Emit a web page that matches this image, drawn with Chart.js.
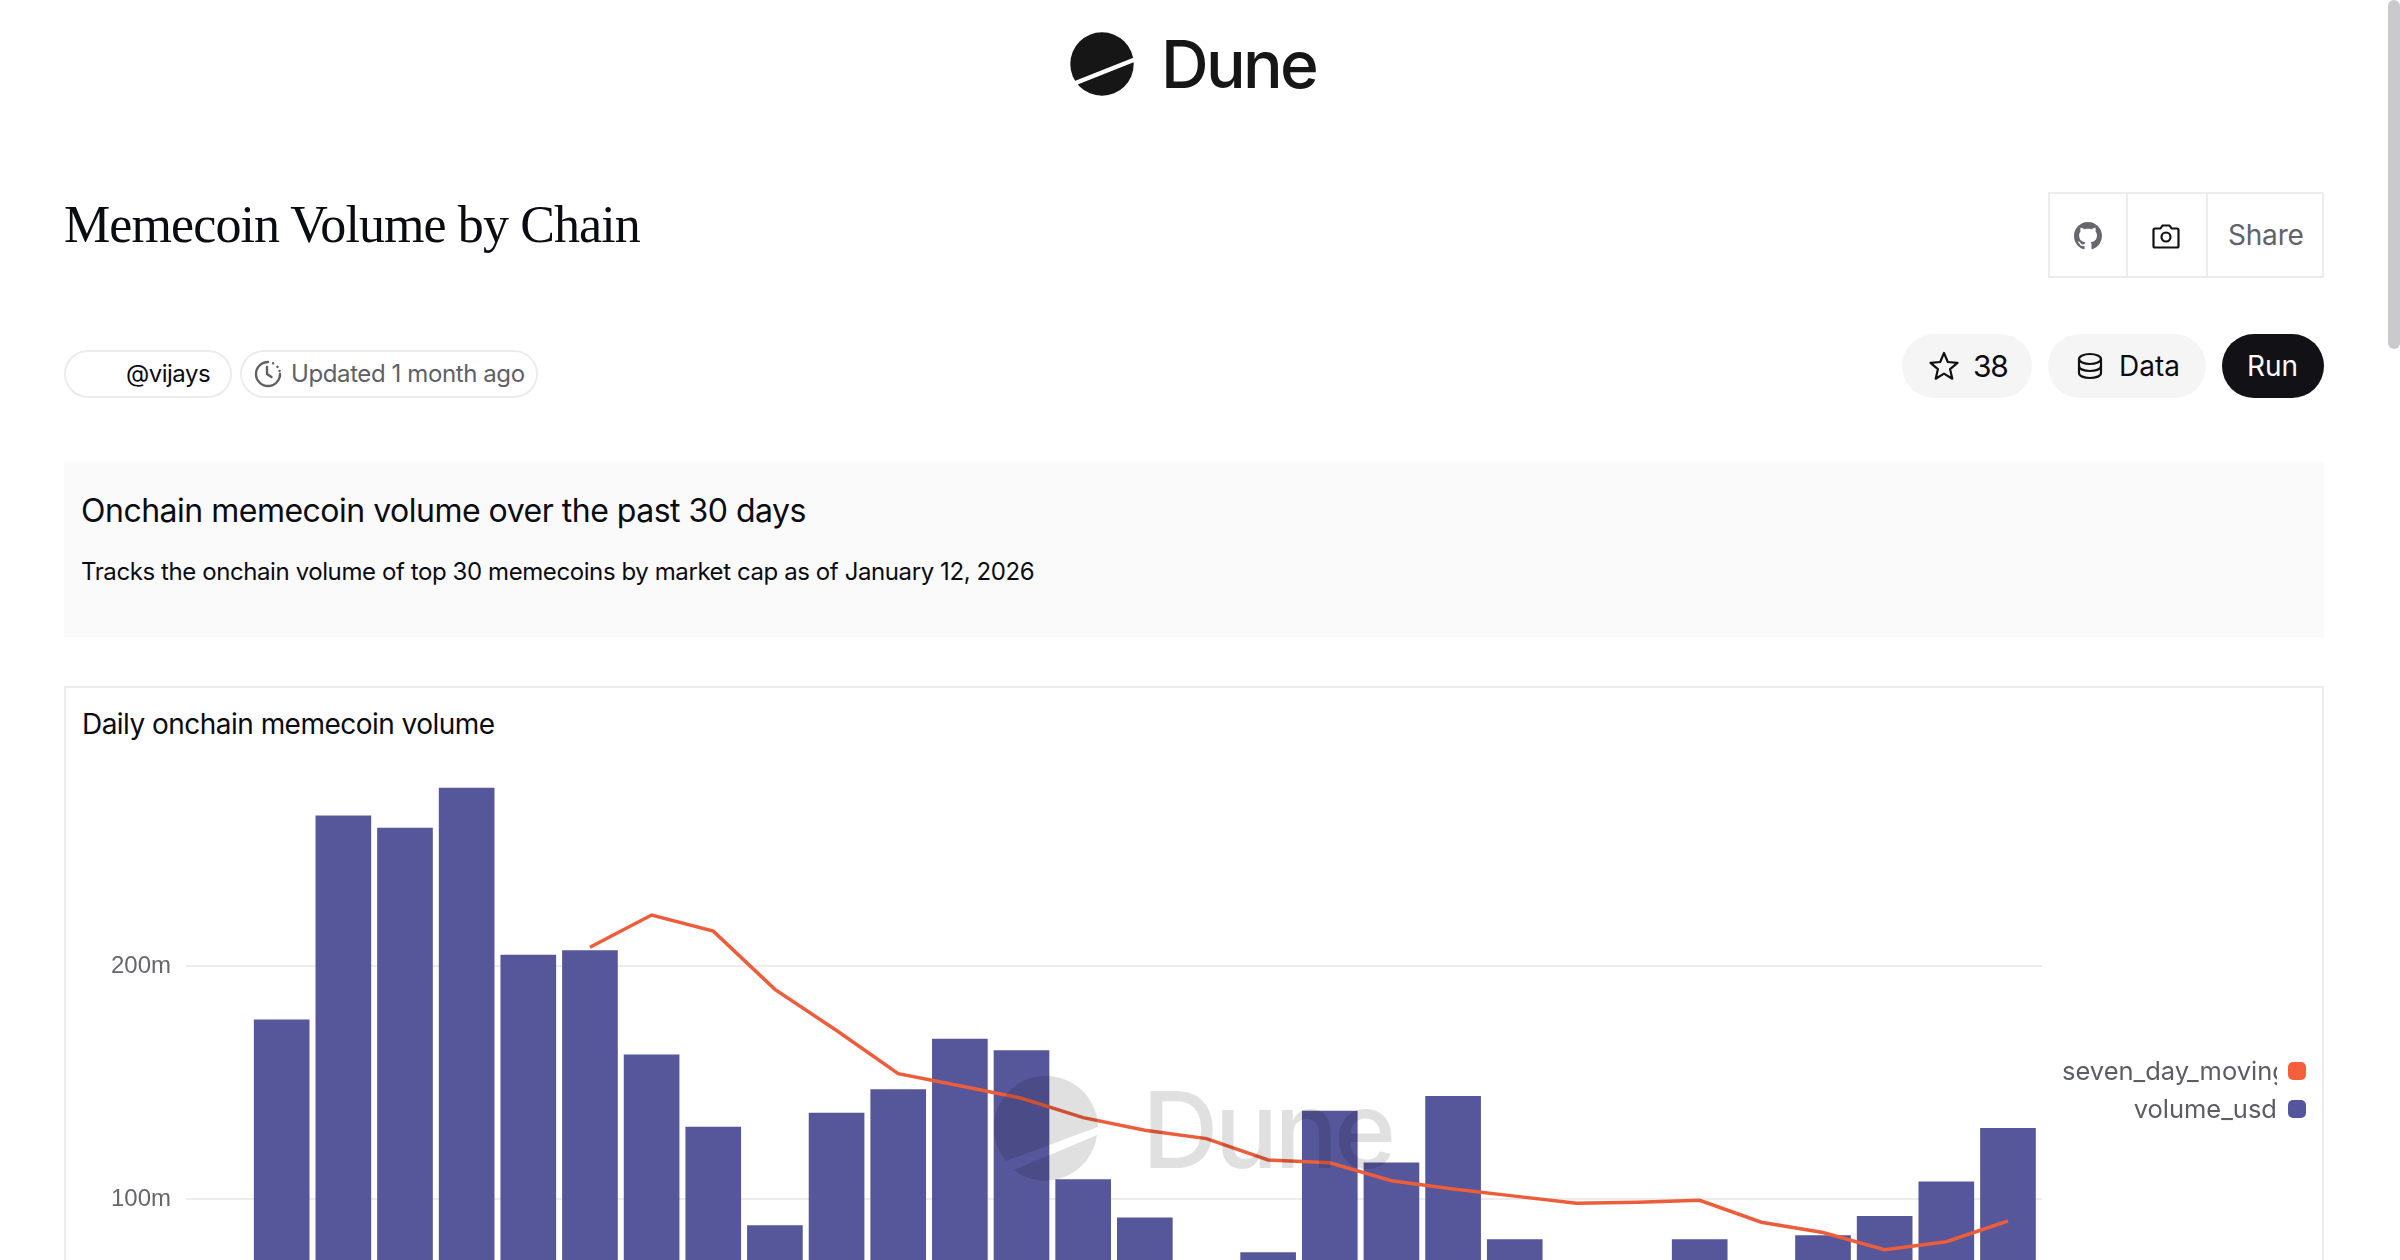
<!DOCTYPE html>
<html>
<head>
<meta charset="utf-8">
<title>Memecoin Volume by Chain</title>
<script src="https://cdn.jsdelivr.net/npm/chart.js@4"></script>
<style>
  html, body { margin: 0; width: 2400px; height: 1260px; overflow: hidden; background: #fff; }
  body { font-family: Inter, sans-serif; color: #0b0b12; position: relative; }
  .abs { position: absolute; white-space: nowrap; }
  .txt { position: absolute; white-space: nowrap; transform: translateY(-50%); line-height: 1; }
  .box { position: absolute; box-sizing: border-box; }
  #chartWrap { position: absolute; left: 66px; top: 690px; width: 2256px; height: 790px; }
  #watermark { position: absolute; left: 0; top: 0; pointer-events: none; }
  #legend { position: absolute; left: 2062px; top: 1052px; width: 244px; }
  .legendRow { position: absolute; left: 0; width: 244px; height: 38px; }
  .legendText { position: absolute; left: 0; width: 215px; top: 0; height: 38px; line-height: 38px; overflow: hidden; text-align: right; font-size: 25.5px; color: #5c5c64; white-space: nowrap; }
  .legendText.clip { text-align: left; }
  .legendSwatch { position: absolute; left: 226px; top: 10px; width: 18px; height: 18px; border-radius: 5px; }
  #scrollbar { position: absolute; left: 2388px; top: 0; width: 12px; height: 349px; background: #c9c9ce; border-radius: 6px; }
</style>
</head>
<body>

<!-- header logo -->
<svg class="abs" style="left:1066px;top:28px" width="72" height="72" viewBox="0 0 72 72">
  <circle cx="36" cy="36" r="31.7" fill="#161616"/>
  <line x1="2" y1="58" x2="70" y2="31" stroke="#fff" stroke-width="4.5"/>
</svg>
<div class="txt" style="left:1161px;top:64px;font-size:66px;font-weight:500;letter-spacing:-2.7px;color:#161616">Dune</div>

<div class="txt" style="left:64px;top:225px;font-family:'Liberation Serif',serif;font-size:52px;letter-spacing:-0.9px">Memecoin Volume by Chain</div>

<!-- author pills -->
<div class="box" style="left:64px;top:350px;width:168px;height:48px;border:2px solid #ececec;border-radius:24px"></div>
<div class="txt" style="left:126px;top:374px;font-size:24px;letter-spacing:-0.5px">@vijays</div>
<div class="box" style="left:240px;top:350px;width:298px;height:48px;border:2px solid #ececec;border-radius:24px"></div>
<svg class="abs" style="left:253px;top:359px" width="30" height="30" viewBox="0 0 30 30" fill="none" stroke="#5f5f66" stroke-width="2.4" stroke-linecap="round">
  <path d="M15 3 A12 12 0 1 0 27 15"/>
  <path d="M20 4.2 L20.1 4.3 M24.4 7.8 L24.5 7.9 M26.6 12 L26.6 12.1"/>
  <path d="M14 8 V15 L18.5 18"/>
</svg>
<div class="txt" style="left:291px;top:374px;font-size:24px;letter-spacing:-0.4px;color:#5f5f66">Updated 1 month ago</div>

<!-- share group -->
<div class="box" style="left:2048px;top:192px;width:276px;height:86px;border:2px solid #ececec"></div>
<div class="box" style="left:2126px;top:192px;width:2px;height:86px;background:#ececec"></div>
<div class="box" style="left:2206px;top:192px;width:2px;height:86px;background:#ececec"></div>
<svg class="abs" style="left:2074px;top:222px" width="28" height="28" viewBox="0 0 16 16" fill="#66666c">
  <path d="M8 0C3.58 0 0 3.58 0 8c0 3.54 2.29 6.53 5.47 7.59.4.07.55-.17.55-.38 0-.19-.01-.82-.01-1.49-2.01.37-2.53-.49-2.69-.94-.09-.23-.48-.94-.82-1.13-.28-.15-.68-.52-.01-.53.63-.01 1.08.58 1.23.82.72 1.21 1.87.87 2.33.66.07-.52.28-.87.51-1.07-1.78-.2-3.64-.89-3.64-3.95 0-.87.31-1.59.82-2.15-.08-.2-.36-1.02.08-2.12 0 0 .67-.21 2.2.82.64-.18 1.32-.27 2-.27.68 0 1.36.09 2 .27 1.53-1.04 2.2-.82 2.2-.82.44 1.1.16 1.92.08 2.12.51.56.82 1.27.82 2.15 0 3.07-1.87 3.75-3.65 3.95.29.25.54.73.54 1.48 0 1.07-.01 1.93-.01 2.2 0 .21.15.46.55.38A8.013 8.013 0 0016 8c0-4.42-3.58-8-8-8z"/>
</svg>
<svg class="abs" style="left:2152px;top:222px" width="28" height="28" viewBox="0 0 28 28" fill="none" stroke="#111" stroke-width="2.2" stroke-linejoin="round">
  <path d="M3 6.5 H8.5 L10.5 3.5 H17.5 L19.5 6.5 H25 Q26.5 6.5 26.5 8 V24 Q26.5 25.5 25 25.5 H3 Q1.5 25.5 1.5 24 V8 Q1.5 6.5 3 6.5 Z"/>
  <circle cx="14" cy="15" r="4.5"/>
</svg>
<div class="txt" style="left:2228px;top:235px;font-size:28px;letter-spacing:-0.2px;color:#62626a">Share</div>

<!-- action pills -->
<div class="box" style="left:1902px;top:334px;width:130px;height:64px;background:#f5f5f5;border-radius:32px"></div>
<svg class="abs" style="left:1928px;top:350px" width="32" height="32" viewBox="0 0 32 32" fill="none" stroke="#111" stroke-width="2.2" stroke-linejoin="round">
  <path d="M16 3 L19.8 12 L29.5 12.8 L22.1 19.2 L24.3 28.7 L16 23.6 L7.7 28.7 L9.9 19.2 L2.5 12.8 L12.2 12 Z"/>
</svg>
<div class="txt" style="left:1973px;top:366px;font-size:30px;letter-spacing:-1.2px">38</div>
<div class="box" style="left:2048px;top:334px;width:158px;height:64px;background:#f5f5f5;border-radius:32px"></div>
<svg class="abs" style="left:2076px;top:352px" width="28" height="28" viewBox="0 0 28 28" fill="none" stroke="#111" stroke-width="2.2">
  <ellipse cx="14" cy="7" rx="11" ry="5"/>
  <path d="M3 7 V21 C3 24 8 26 14 26 C20 26 25 24 25 21 V7"/>
  <path d="M3 14 C3 17 8 19 14 19 C20 19 25 17 25 14"/>
</svg>
<div class="txt" style="left:2119px;top:366px;font-size:28px">Data</div>
<div class="box" style="left:2222px;top:334px;width:102px;height:64px;background:#111116;border-radius:32px"></div>
<div class="txt" style="left:2247px;top:366px;font-size:28px;color:#fff">Run</div>

<!-- description -->
<div class="box" style="left:64px;top:462px;width:2260px;height:176px;background:#fafafa"></div>
<div class="txt" style="left:81px;top:511px;font-size:32px;letter-spacing:-0.5px">Onchain memecoin volume over the past 30 days</div>
<div class="txt" style="left:81px;top:572px;font-size:24px;letter-spacing:-0.41px">Tracks the onchain volume of top 30 memecoins by market cap as of January 12, 2026</div>

<!-- chart card -->
<div class="box" style="left:64px;top:686px;width:2260px;height:800px;border:2px solid #ececec"></div>
<div class="txt" style="left:82px;top:724px;font-size:28px;letter-spacing:-0.53px">Daily onchain memecoin volume</div>
<div id="chartWrap"><canvas id="chart" width="2256" height="790"></canvas></div>

<!-- watermark sits over the bars, it darkens them a little -->
<svg id="watermark" width="2400" height="1260">
  <g fill="rgba(0,0,0,0.12)">
    <path d="M1006 1161 A52 52 0 1 1 1098 1127 Z"/>
    <path d="M1014 1170 A52 52 0 0 0 1097 1135 Z"/>
  </g>
  <text x="1142" y="1168" font-family="Inter, sans-serif" font-size="106" font-weight="500" letter-spacing="-4" fill="rgba(0,0,0,0.12)">Dune</text>
</svg>

<div id="legend"></div>
<div id="scrollbar"></div>

<script>
// in millions of USD. the bars hidden below the fold
// are worked back from the moving average
const days = ["Dec 14", "Dec 15", "Dec 16", "Dec 17", "Dec 18", "Dec 19", "Dec 20", "Dec 21", "Dec 22", "Dec 23",
              "Dec 24", "Dec 25", "Dec 26", "Dec 27", "Dec 28", "Dec 29", "Dec 30", "Dec 31", "Jan 1", "Jan 2",
              "Jan 3", "Jan 4", "Jan 5", "Jan 6", "Jan 7", "Jan 8", "Jan 9", "Jan 10", "Jan 11"];
const volumeUsd = [177, 264.6, 259.4, 276.5, 204.8, 206.7, 162, 131, 88.7, 137,
                   147, 168.7, 163.8, 108.4, 92, 60, 77.1, 137.8, 115.6, 144.2,
                   82.6, 70, 63.5, 82.6, 72, 84.4, 92.6, 107.4, 130.4];
const sevenDayMoving = [null, null, null, null, null, 208.2, 222, 215.1, 190.1, 172.4,
                        153.9, 148.7, 143.3, 135, 129.6, 126, 116.8, 115.6, 107.9, 104.4,
                        101.3, 98.2, 98.7, 99.5, 90.1, 85.7, 78.3, 81.7, 90.6];
const yTickValues = [0, 100, 200];
const seriesNames = ["seven_day_moving_average", "volume_usd"];
const seriesColors = ["#ec5d3b", "#56569a"];
const swatchColors = ["#f65f3c", "#55559c"];

const toPoints = values => values.map((v, i) => ({ x: i, y: v }));

const chart = new Chart(document.getElementById("chart"), {
    data: {
        datasets: [
            {
                type: "line",
                label: seriesNames[0],
                data: toPoints(sevenDayMoving),
                borderColor: seriesColors[0],
                borderWidth: 3.5,
                pointRadius: 0,
                tension: 0,
                order: 0
            },
            {
                type: "bar",
                label: seriesNames[1],
                data: toPoints(volumeUsd),
                backgroundColor: seriesColors[1],
                barThickness: 55,
                order: 1
            }
        ]
    },
    options: {
        responsive: false,
        animation: false,
        devicePixelRatio: 1,
        layout: { padding: { top: 90, right: 280, bottom: 0, left: 0 } },
        plugins: { legend: { display: false }, tooltip: { enabled: false } },
        scales: {
            x: {
                type: "linear",
                min: -1.552,
                max: 28.552,
                offset: false,
                grid: { display: false },
                border: { display: false },
                afterFit: axis => { axis.height = 48; },
                ticks: {
                    stepSize: 7,
                    color: "#66666c",
                    font: { family: "Liberation Sans", size: 24 },
                    callback: v => days[v] || ""
                }
            },
            y: {
                min: 0,
                max: 280,
                grid: { color: "#ececec", lineWidth: 2, drawTicks: false },
                border: { display: false },
                afterFit: axis => { axis.width = 120; },
                afterBuildTicks: axis => { axis.ticks = yTickValues.map(v => ({ value: v })); },
                ticks: {
                    padding: 15,
                    color: "#66666c",
                    font: { family: "Liberation Sans", size: 24 },
                    callback: v => v === 0 ? "0" : v + "m"
                }
            }
        }
    }
});

// legend on the right, long name gets cut off like in the original
const legendBox = document.getElementById("legend");
seriesNames.forEach((name, i) => {
    const row = document.createElement("div");
    row.className = "legendRow";
    row.style.top = (i * 38) + "px";
    const label = document.createElement("div");
    label.className = "legendText" + (i === 0 ? " clip" : "");
    label.textContent = name;
    const swatch = document.createElement("div");
    swatch.className = "legendSwatch";
    swatch.style.background = swatchColors[i];
    row.appendChild(label);
    row.appendChild(swatch);
    legendBox.appendChild(row);
});
</script>
</body>
</html>
